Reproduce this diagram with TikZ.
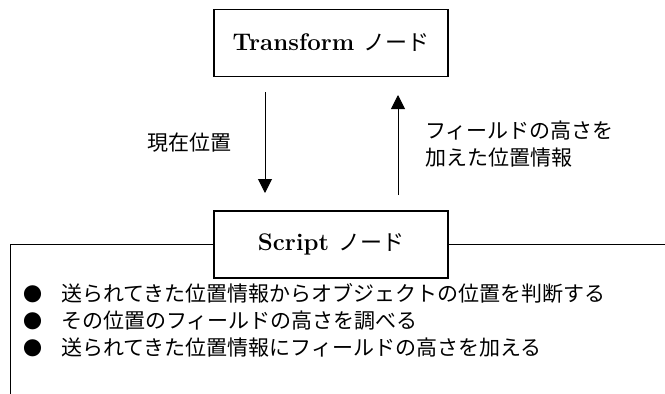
\documentclass[tikz,border=0pt]{standalone}
\usepackage{fontspec}
\newfontfamily\jp{Noto Sans CJK JP}
\usetikzlibrary{arrows.meta}
\newcommand\blt{\makebox[38pt][l]{\fontsize{19}{19}\selectfont ●}}
\begin{document}
\begin{tikzpicture}[x=1pt,y=-1pt,
  box/.style={draw,line width=1.2pt,minimum width=234pt,minimum height=67pt,inner sep=0pt,fill=white,
    font=\fontsize{24}{28}\selectfont\bfseries},
  lbl/.style={font=\jp\fontsize{21}{27}\selectfont,align=left,inner sep=0pt},
  conn/.style={line width=1pt,-{Triangle[length=14pt,width=14pt]}},
  frame/.style={line width=1pt}]
\useasboundingbox (0,0) rectangle (665,394);
\node[box] (tr) at (331,43) {Transform\hspace{9pt}{\jp\mdseries\fontsize{22}{22}\selectfont ノード}};
\node[box] (sc) at (331,244.5) {Script\hspace{9pt}{\jp\mdseries\fontsize{22}{22}\selectfont ノード}};
\coordinate (a1) at (265,92);
\coordinate (a2) at (265,193);
\coordinate (b1) at (398,195);
\coordinate (b2) at (398,95);
\draw[conn] (a1) -- (a2);
\draw[conn] (b1) -- (b2);
\node[lbl,anchor=west] (cur) at (147,143) {現在位置};
\node[lbl,anchor=west] (res) at (425,144) {フィールドの高さを\\加えた位置情報};
\coordinate (c1) at (10,394);
\coordinate (c2) at (10,244);
\coordinate (c3) at (665,244);
\draw[frame] (c1) -- (c2) -- (sc.west|-c2);
\draw[frame] (sc.east|-c2) -- (c3);
\node[lbl,anchor=west] (list) at (23,320) {%
\blt 送られてきた位置情報からオブジェクトの位置を判断する\\
\blt その位置のフィールドの高さを調べる\\
\blt 送られてきた位置情報にフィールドの高さを加える};
\end{tikzpicture}
\end{document}
